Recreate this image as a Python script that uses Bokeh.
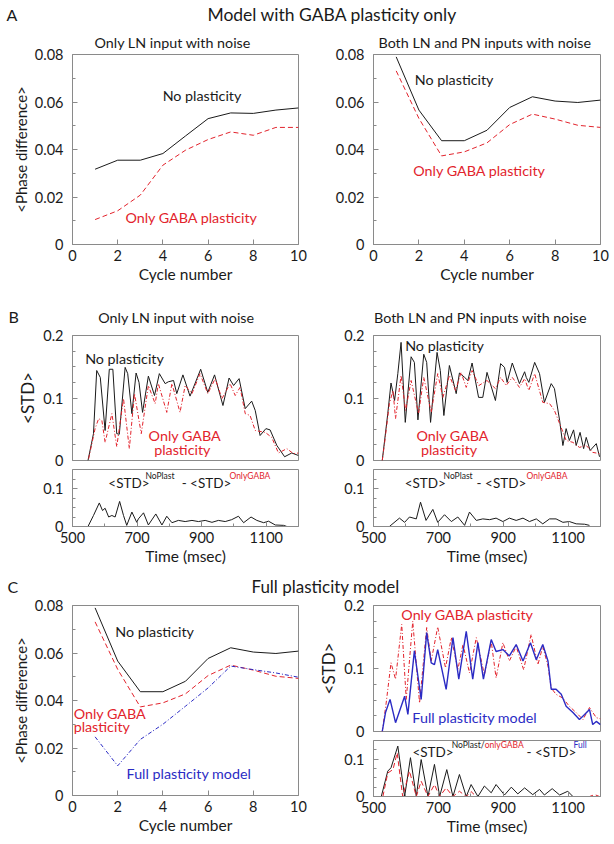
from bokeh.plotting import figure
from bokeh.layouts import column, row
from bokeh.models import Range1d, FixedTicker, Label
from bokeh.embed import file_html
from bokeh.resources import INLINE

FONT = "Lato"
INK = "#1a1a1a"
RED = "#e2232c"
BLUE = "#2b2bc4"
FRAME = "#8a8a8a"

# ---------------- data ----------------
cycles = [1, 2, 3, 4, 5, 6, 7, 8, 9, 10]
# A, left: only LN input with noise
a1_noplast = [0.0317, 0.0355, 0.0355, 0.0383, 0.0457, 0.0530, 0.0554, 0.0552, 0.0566, 0.0575]
a1_gaba = [0.0105, 0.0142, 0.0208, 0.0334, 0.0397, 0.0442, 0.0474, 0.0460, 0.0493, 0.0493]
# A, right (and C, left): both LN and PN inputs with noise
a2_noplast = [0.0790, 0.0566, 0.0437, 0.0437, 0.0481, 0.0577, 0.0622, 0.0604, 0.0598, 0.0608]
a2_gaba = [0.0731, 0.0531, 0.0373, 0.0390, 0.0428, 0.0505, 0.0549, 0.0528, 0.0502, 0.0493]
c1_full = [0.0247, 0.0125, 0.0236, 0.0300, 0.0376, 0.0453, 0.0545, 0.0530, 0.0516, 0.0498]

# B, left: only LN input with noise
b1_np_t = [548, 565, 575, 586, 601, 614, 625, 637, 645, 663, 671, 684, 697, 706, 717, 735, 754, 769, 787, 797,
           813, 823, 842, 864, 897, 919, 940, 966, 985, 999, 1016, 1035, 1055, 1066, 1081, 1099, 1112, 1133,
           1157, 1179, 1200]
b1_np_v = [0, 0.043, 0.144, 0.133, 0.048, 0.146, 0.146, 0.043, 0.042, 0.149, 0.139, 0.075, 0.140, 0.125,
           0.077, 0.135, 0.104, 0.139, 0.123, 0.126, 0.128, 0.107, 0.137, 0.103, 0.146, 0.109, 0.137, 0.088,
           0.132, 0.120, 0.131, 0.083, 0.095, 0.080, 0.040, 0.051, 0.049, 0.024, 0.006, 0.012, 0.008]
b1_gaba_t = [550, 570, 581, 591, 601, 622, 637, 658, 676, 692, 706, 713, 735, 756, 766, 792, 808, 833, 849,
             870, 895, 919, 942, 963, 988, 1004, 1019, 1035, 1050, 1066, 1097, 1117, 1138, 1164, 1184, 1200]
b1_gaba_v = [0.003, 0.051, 0.067, 0.064, 0.029, 0.075, 0.022, 0.099, 0.019, 0.107, 0.064, 0.043, 0.120,
             0.091, 0.123, 0.077, 0.123, 0.077, 0.120, 0.107, 0.139, 0.107, 0.131, 0.099, 0.123, 0.104,
             0.117, 0.075, 0.072, 0.048, 0.045, 0.037, 0.012, 0.019, 0.011, 0.012]
b1_diff_t = [548, 565, 583, 593, 601, 612, 622, 632, 646, 658, 668, 684, 699, 704, 720, 735, 758, 777, 792,
             808, 828, 849, 870, 890, 911, 932, 952, 973, 993, 1014, 1030, 1053, 1071, 1092, 1107, 1128,
             1154, 1164]
b1_diff_v = [0, 0.029, 0.062, 0.042, 0.048, 0.025, 0.029, 0.025, 0.066, 0.029, 0.003, 0.038, 0.011, 0.020,
             0.036, 0.004, 0.033, 0.004, 0.027, 0.010, 0.016, 0.013, 0.016, 0.013, 0.016, 0.011, 0.016,
             0.013, 0.018, 0.027, 0.010, 0.025, 0.016, 0.010, 0.014, 0.004, 0.003, 0]

# B, right: both LN and PN inputs with noise
b2_np_t = [527, 544, 554, 565, 575, 585, 598, 616, 626, 637, 655, 664, 676, 696, 706, 717, 734, 755, 765,
           781, 791, 804, 824, 837, 850, 876, 892, 904, 912, 928, 950, 966, 971, 979, 997, 1012, 1027, 1048,
           1058, 1074, 1084, 1094, 1104, 1117, 1125, 1137, 1148, 1156, 1168, 1187, 1197]
b2_np_v = [0, 0.075, 0.124, 0.096, 0.139, 0.189, 0.061, 0.166, 0.157, 0.065, 0.170, 0.157, 0.061, 0.173,
           0.144, 0.072, 0.152, 0.107, 0.140, 0.133, 0.128, 0.156, 0.101, 0.101, 0.141, 0.096, 0.155,
           0.149, 0.125, 0.156, 0.123, 0.142, 0.133, 0.125, 0.157, 0.139, 0.093, 0.123, 0.115, 0.064,
           0.024, 0.051, 0.032, 0.049, 0.024, 0.045, 0.019, 0.037, 0.016, 0.027, 0.006]
b2_gaba_t = [527, 534, 549, 560, 568, 585, 599, 616, 639, 655, 678, 698, 714, 734, 753, 770, 786, 804, 825,
             850, 876, 892, 909, 928, 950, 966, 979, 997, 1022, 1043, 1058, 1074, 1094, 1115, 1135, 1156,
             1176, 1197]
b2_gaba_v = [0, 0.027, 0.091, 0.112, 0.067, 0.136, 0.080, 0.128, 0.075, 0.133, 0.077, 0.139, 0.101, 0.136,
             0.112, 0.141, 0.117, 0.144, 0.120, 0.128, 0.115, 0.133, 0.120, 0.133, 0.117, 0.131, 0.112,
             0.139, 0.093, 0.091, 0.080, 0.059, 0.032, 0.029, 0.021, 0.024, 0.013, 0.011]
b2_diff_t = [549, 580, 596, 611, 632, 645, 662, 683, 698, 719, 740, 760, 781, 796, 817, 837, 858, 878, 899,
             919, 940, 961, 981, 1002, 1022, 1043, 1063, 1084, 1104, 1125, 1151, 1166]
b2_diff_v = [0, 0.022, 0.011, 0.025, 0.020, 0.064, 0.016, 0.045, 0.011, 0.031, 0.013, 0.025, 0.003, 0.038,
             0.016, 0.020, 0.018, 0.022, 0.013, 0.022, 0.016, 0.022, 0.013, 0.020, 0.007, 0.020, 0.020,
             0.011, 0.013, 0.007, 0.006, 0.003]

# C, right: full plasticity model
c2_gaba_t = [527, 539, 554, 568, 587, 601, 621, 642, 664, 678, 698, 722, 740, 760, 776, 796, 817, 842, 863,
             878, 899, 919, 940, 963, 986, 1007, 1022, 1038, 1048, 1063, 1084, 1104, 1125, 1146, 1166, 1187,
             1200]
c2_gaba_v = [0, 0.045, 0.109, 0.083, 0.170, 0.051, 0.175, 0.045, 0.165, 0.112, 0.166, 0.101, 0.149, 0.098,
             0.138, 0.093, 0.149, 0.090, 0.143, 0.085, 0.141, 0.112, 0.135, 0.098, 0.154, 0.106, 0.135,
             0.104, 0.069, 0.059, 0.053, 0.040, 0.030, 0.019, 0.038, 0.022, 0.020]
c2_full_t = [527, 537, 551, 568, 596, 606, 626, 647, 664, 678, 688, 698, 724, 745, 763, 786, 806, 822, 839,
             863, 878, 899, 919, 940, 961, 984, 1002, 1022, 1038, 1048, 1063, 1079, 1094, 1115, 1135, 1151,
             1166, 1176, 1187, 1200]
c2_full_v = [0, 0.030, 0.051, 0.014, 0.056, 0.027, 0.128, 0.051, 0.157, 0.109, 0.106, 0.130, 0.067, 0.149,
             0.083, 0.159, 0.083, 0.141, 0.083, 0.146, 0.127, 0.130, 0.120, 0.138, 0.112, 0.141, 0.114,
             0.138, 0.112, 0.067, 0.067, 0.059, 0.040, 0.030, 0.019, 0.027, 0.035, 0.011, 0.016, 0.011]
c2_dnp_t = [524, 544, 554, 575, 596, 614, 632, 647, 668, 688, 704, 726, 745, 765, 786, 801, 822, 842, 863,
            878, 904, 925, 945, 966, 991, 1012, 1027, 1051, 1074, 1099, 1115]
c2_dnp_v = [0, 0.068, 0.077, 0.135, 0, 0.104, 0, 0.099, 0, 0.086, 0, 0.072, 0, 0.059, 0, 0.032, 0, 0.028,
            0.010, 0.032, 0.004, 0.025, 0.007, 0.023, 0.005, 0.019, 0.004, 0.021, 0.004, 0.014, 0]
c2_dgaba_t = [529, 544, 560, 573, 590, 611, 632, 647, 668, 688, 704, 724, 745, 765, 786, 801, 817, 1166,
              1182, 1197]
c2_dgaba_v = [0, 0.063, 0.072, 0.117, 0, 0.068, 0, 0.041, 0, 0.032, 0, 0.023, 0, 0.014, 0, 0.013, 0, 0,
              0.005, 0]

cycle_ticks = [0, 2, 4, 6, 8, 10]
phase_ticks = [0, 0.02, 0.04, 0.06, 0.08]
phase_minor = [0.01, 0.03, 0.05, 0.07]
time_ticks = [500, 700, 900, 1100]
time_minor = [600, 800, 1000, 1200]
std_ticks = [0, 0.1, 0.2]
std_minor = [0.025, 0.05, 0.075, 0.125, 0.15, 0.175]
dstd_ticks = [0, 0.1]
dstd_minor = [0.025, 0.05, 0.075, 0.125]


# ---------------- helpers ----------------
def panel(fw, fh, bl, br, bt, bb, xr, yr, yticks, yminor, xticks=None, xminor=None,
          xlabel=None, ylabel=None, ylabel_size="15px", show_x=True,
          title=None, title_size="14.3px", title_offset=0):
    p = figure(width=None, height=None, frame_width=fw, frame_height=fh,
               x_range=Range1d(*xr), y_range=Range1d(*yr),
               toolbar_location=None, output_backend="svg",
               title_location="above" if title else None,
               x_axis_location="below" if show_x else None,
               min_border_left=bl, min_border_right=br, min_border_top=bt, min_border_bottom=bb)
    if title:
        t = p.title
        t.text = title
        t.align = "left"
        t.offset = title_offset
        t.text_font = FONT
        t.text_font_size = title_size
        t.text_font_style = "normal"
        t.text_color = INK
        if "standoff" in t.properties():
            t.standoff = 8
    p.outline_line_color = FRAME
    p.outline_line_width = 1
    p.background_fill_color = "white"
    p.border_fill_color = "white"
    p.grid.visible = False
    p.yaxis.ticker = FixedTicker(ticks=yticks, minor_ticks=yminor)
    p.yaxis.major_label_overrides = {0: "0"}
    if show_x:
        p.xaxis.ticker = FixedTicker(ticks=xticks, minor_ticks=xminor or [])
        p.xaxis.major_label_standoff = 5
        p.xaxis.axis_label_standoff = 1
    p.yaxis.major_label_standoff = 9
    p.yaxis.axis_label_standoff = 2
    for ax in p.axis:
        ax.axis_line_color = FRAME
        ax.major_tick_line_color = FRAME
        ax.minor_tick_line_color = FRAME
        ax.major_tick_in = 5
        ax.major_tick_out = 0
        ax.minor_tick_in = 3
        ax.minor_tick_out = 0
        ax.major_label_text_font = FONT
        ax.major_label_text_font_size = "14.5px"
        ax.major_label_text_color = INK
        ax.axis_label_text_font = FONT
        ax.axis_label_text_font_style = "normal"
        ax.axis_label_text_color = INK
    if show_x and xlabel:
        p.xaxis.axis_label = xlabel
        p.xaxis.axis_label_text_font_size = "15.5px"
    if ylabel:
        p.yaxis.axis_label = ylabel
        p.yaxis.axis_label_text_font_size = ylabel_size
    return p


def txt(p, x, y, s, color=INK, size="14.3px", align="center"):
    p.add_layout(Label(x=x, y=y, text=s, text_color=color, text_font=FONT,
                       text_font_size=size, text_align=align, text_baseline="middle"))


def strip(w, h):
    p = figure(width=w, height=h, x_range=Range1d(0, w), y_range=Range1d(0, h),
               toolbar_location=None, output_backend="svg", title_location=None,
               x_axis_location=None, y_axis_location=None, min_border=0)
    p.outline_line_color = None
    p.grid.visible = False
    return p


DASH = "5 3"
DASHDOT = "4 2 1 2"
SUB = "8.5px"
DIFF = "13.5px"
SUBT = "14.3px"

# ---------------- row A ----------------
sA = strip(608, 27)
txt(sA, 6, 13, "A", size="16px", align="left")
txt(sA, 332, 13, "Model with GABA plasticity only", size="17.5px")

pA1 = panel(226, 190, 72, 12, 27, 46, (0, 10), (0, 0.08), phase_ticks, phase_minor,
            cycle_ticks, None, "Cycle number", "<Phase difference>",
            title="Only LN input with noise", title_size=SUBT, title_offset=22)
pA1.line(cycles, a1_noplast, line_color=INK, line_width=1)
pA1.line(cycles, a1_gaba, line_color=RED, line_width=1, line_dash=DASH)
txt(pA1, 5.73, 0.0627, "No plasticity")
txt(pA1, 5.27, 0.0114, "Only GABA plasticity", color=RED)

pA2 = panel(227, 190, 63, 10, 27, 46, (0, 10), (0, 0.08), phase_ticks, phase_minor,
            cycle_ticks, None, "Cycle number",
            title="Both LN and PN inputs with noise", title_size=SUBT, title_offset=5)
pA2.line(cycles, a2_noplast, line_color=INK, line_width=1)
pA2.line(cycles, a2_gaba, line_color=RED, line_width=1, line_dash=DASH)
txt(pA2, 3.55, 0.0695, "No plasticity")
txt(pA2, 4.67, 0.0312, "Only GABA plasticity", color=RED)

# ---------------- row B ----------------
sB = strip(608, 36)
txt(sB, 8, 10, "B", size="16px", align="left")
txt(sB, 176, 9, "Only LN input with noise", size=SUBT)
txt(sB, 480, 9, "Both LN and PN inputs with noise", size=SUBT)

pB1 = panel(226, 125, 72, 12, 9, 9, (500, 1200), (0, 0.2), std_ticks, std_minor,
            ylabel="<STD>", ylabel_size="17px", show_x=False)
pB1.line(b1_np_t, b1_np_v, line_color=INK, line_width=1)
pB1.line(b1_gaba_t, b1_gaba_v, line_color=RED, line_width=1, line_dash=DASHDOT)
txt(pB1, 661, 0.163, "No plasticity")
txt(pB1, 848, 0.040, "Only GABA", color=RED)
txt(pB1, 840, 0.0176, "plasticity", color=RED)

pB1d = panel(226, 57, 72, 12, 0, 42, (500, 1200), (0, 0.15), dstd_ticks, dstd_minor,
             time_ticks, time_minor, "Time (msec)")
pB1d.line(b1_diff_t, b1_diff_v, line_color=INK, line_width=1)
txt(pB1d, 611, 0.114, "<STD>", size=DIFF, align="left")
txt(pB1d, 726, 0.134, "NoPlast", size=SUB, align="left")
txt(pB1d, 838, 0.114, "- <STD>", size=DIFF, align="left")
txt(pB1d, 986, 0.134, "OnlyGABA", color=RED, size=SUB, align="left")

pB2 = panel(227, 125, 63, 10, 9, 9, (500, 1200), (0, 0.2), std_ticks, std_minor, show_x=False)
pB2.line(b2_np_t, b2_np_v, line_color=INK, line_width=1)
pB2.line(b2_gaba_t, b2_gaba_v, line_color=RED, line_width=1, line_dash=DASHDOT)
txt(pB2, 719, 0.184, "No plasticity")
txt(pB2, 744, 0.040, "Only GABA", color=RED)
txt(pB2, 733, 0.0176, "plasticity", color=RED)

pB2d = panel(227, 57, 63, 10, 0, 42, (500, 1200), (0, 0.15), dstd_ticks, dstd_minor,
             time_ticks, time_minor, "Time (msec)")
pB2d.line(b2_diff_t, b2_diff_v, line_color=INK, line_width=1)
txt(pB2d, 596, 0.114, "<STD>", size=DIFF, align="left")
txt(pB2d, 716, 0.134, "NoPlast", size=SUB, align="left")
txt(pB2d, 818, 0.114, "- <STD>", size=DIFF, align="left")
txt(pB2d, 972, 0.134, "OnlyGABA", color=RED, size=SUB, align="left")

# ---------------- row C ----------------
sC = strip(608, 28)
txt(sC, 7, 10.5, "C", size="16px", align="left")
txt(sC, 325, 10, "Full plasticity model", size="17px")

pC1 = panel(226, 190, 72, 12, 9, 42, (0, 10), (0, 0.08), phase_ticks, phase_minor,
            cycle_ticks, None, "Cycle number", "<Phase difference>")
pC1.line(cycles, a2_noplast, line_color=INK, line_width=1)
pC1.line(cycles, a2_gaba, line_color=RED, line_width=1, line_dash=DASH)
pC1.line(cycles, c1_full, line_color=BLUE, line_width=1, line_dash=DASHDOT)
txt(pC1, 3.63, 0.069, "No plasticity")
txt(pC1, 0.05, 0.0345, "Only GABA", color=RED, align="left")
txt(pC1, 0.05, 0.0290, "plasticity", color=RED, align="left")
txt(pC1, 5.15, 0.0093, "Full plasticity model", color=BLUE)

pC2 = panel(227, 126, 63, 10, 9, 9, (500, 1200), (0, 0.2), std_ticks, std_minor,
            ylabel="<STD>", ylabel_size="17px", show_x=False)
pC2.line(c2_gaba_t, c2_gaba_v, line_color=RED, line_width=1, line_dash=DASHDOT)
pC2.line(c2_full_t, c2_full_v, line_color=BLUE, line_width=1.4)
txt(pC2, 790, 0.186, "Only GABA plasticity", color=RED)
txt(pC2, 812, 0.022, "Full plasticity model", color=BLUE)

pC2d = panel(227, 56, 63, 10, 0, 41, (500, 1200), (0, 0.15), dstd_ticks, dstd_minor,
             time_ticks, time_minor, "Time (msec)")
pC2d.line(c2_dnp_t, c2_dnp_v, line_color=INK, line_width=1)
pC2d.line(c2_dgaba_t, c2_dgaba_v, line_color=RED, line_width=1, line_dash=DASH)
txt(pC2d, 620, 0.118, "<STD>", size=DIFF, align="left")
txt(pC2d, 741, 0.137, "NoPlast/", size=SUB, align="left")
txt(pC2d, 843, 0.137, "onlyGABA", color=RED, size=SUB, align="left")
txt(pC2d, 972, 0.118, "- <STD>", size=DIFF, align="left")
txt(pC2d, 1117, 0.137, "Full", color=BLUE, size=SUB, align="left")

layout = column(
    sA,
    row(pA1, pA2),
    sB,
    row(column(pB1, pB1d), column(pB2, pB2d)),
    sC,
    row(pC1, column(pC2, pC2d)),
)

open("out.html", "w").write(file_html(layout, INLINE))
